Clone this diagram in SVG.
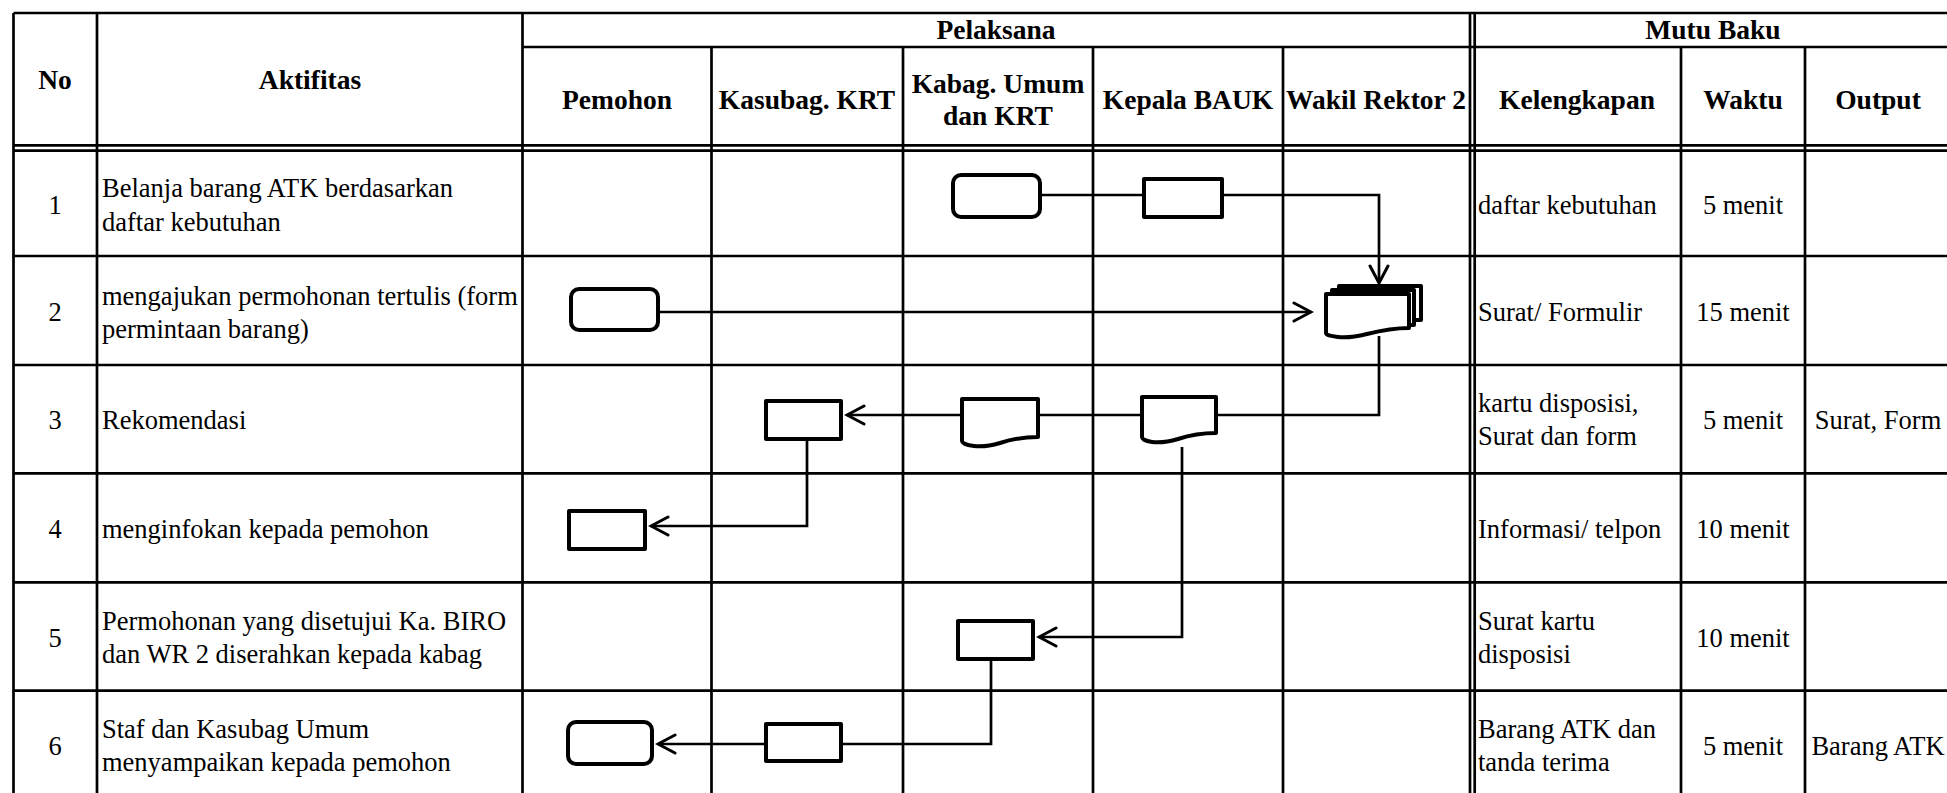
<svg xmlns="http://www.w3.org/2000/svg" width="1947" height="793" viewBox="0 0 1947 793">
<style>
.g{stroke:#000;stroke-width:2.7;fill:none}
.n{stroke:#000;stroke-width:4;fill:#fff;stroke-linejoin:round}
.c{stroke:#000;stroke-width:2.7;fill:none}
text{font-family:"Liberation Serif","Times New Roman",serif;font-size:26.5px;fill:#000}
.b{font-weight:bold;font-size:27.5px}
.m{text-anchor:middle}
</style>
<defs>
<marker id="ah" markerUnits="userSpaceOnUse" markerWidth="22" markerHeight="22" viewBox="0 0 22 22" refX="19" refY="11" orient="auto">
<path d="M2,2 L19,11 L2,20" fill="none" stroke="#000" stroke-width="3" stroke-linecap="round" stroke-linejoin="miter"/>
</marker>
</defs>
<rect width="1947" height="793" fill="#fff"/>
<g id="table">
<path class="g" d="M13.5,13 V800 M97,13 V800 M522.5,13 V800 M711.5,47 V800 M903,47 V800 M1093,47 V800 M1283,47 V800 M1470,13 V800 M1474.7,13 V800 M1681,47 V800 M1805,47 V800"/>
<path class="g" d="M13.5,13 H1950 M522.5,47 H1950 M13.5,145.3 H1950 M13.5,150.7 H1950 M13.5,256 H1950 M13.5,365 H1950 M13.5,473.3 H1950 M13.5,582.3 H1950 M13.5,690.7 H1950"/>
</g>
<g id="header">
<text class="b m" x="55" y="89">No</text>
<text class="b m" x="310" y="89">Aktifitas</text>
<text class="b m" x="996" y="39">Pelaksana</text>
<text class="b m" x="1713" y="39">Mutu Baku</text>
<text class="b m" x="617" y="109">Pemohon</text>
<text class="b m" x="807" y="109">Kasubag. KRT</text>
<text class="b m" x="998" y="93">Kabag. Umum</text>
<text class="b m" x="998" y="125">dan KRT</text>
<text class="b m" x="1188" y="109">Kepala BAUK</text>
<text class="b m" x="1376" y="109">Wakil Rektor 2</text>
<text class="b m" x="1577" y="109">Kelengkapan</text>
<text class="b m" x="1743" y="109">Waktu</text>
<text class="b m" x="1878" y="109">Output</text>
</g>
<g id="rows">
<text class="m" x="55" y="214">1</text>
<text x="102" y="197">Belanja barang ATK berdasarkan</text>
<text x="102" y="231">daftar kebutuhan</text>
<text x="1478" y="214">daftar kebutuhan</text>
<text class="m" x="1743" y="214">5 menit</text>

<text class="m" x="55" y="321">2</text>
<text x="102" y="305">mengajukan permohonan tertulis (form</text>
<text x="102" y="338">permintaan barang)</text>
<text x="1478" y="321">Surat/ Formulir</text>
<text class="m" x="1743" y="321">15 menit</text>

<text class="m" x="55" y="429">3</text>
<text x="102" y="429">Rekomendasi</text>
<text x="1478" y="412">kartu disposisi,</text>
<text x="1478" y="445">Surat dan form</text>
<text class="m" x="1743" y="429">5 menit</text>
<text class="m" x="1878" y="429">Surat, Form</text>

<text class="m" x="55" y="538">4</text>
<text x="102" y="538">menginfokan kepada pemohon</text>
<text x="1478" y="538">Informasi/ telpon</text>
<text class="m" x="1743" y="538">10 menit</text>

<text class="m" x="55" y="647">5</text>
<text x="102" y="630">Permohonan yang disetujui Ka. BIRO</text>
<text x="102" y="663">dan WR 2 diserahkan kepada kabag</text>
<text x="1478" y="630">Surat kartu</text>
<text x="1478" y="663">disposisi</text>
<text class="m" x="1743" y="647">10 menit</text>

<text class="m" x="55" y="755">6</text>
<text x="102" y="738">Staf dan Kasubag Umum</text>
<text x="102" y="771">menyampaikan kepada pemohon</text>
<text x="1478" y="738">Barang ATK dan</text>
<text x="1478" y="771">tanda terima</text>
<text class="m" x="1743" y="755">5 menit</text>
<text class="m" x="1878" y="755">Barang ATK</text>
</g>
<g id="connectors">
<path class="c" d="M1042,195 H1142"/>
<path class="c" d="M1224,195 H1379 V283" marker-end="url(#ah)"/>
<path class="c" d="M660,312 H1311" marker-end="url(#ah)"/>
<path class="c" d="M1379,336 V415 H1218"/>
<path class="c" d="M1140,415 H1040"/>
<path class="c" d="M960,415 H847" marker-end="url(#ah)"/>
<path class="c" d="M807,441 V526 H651" marker-end="url(#ah)"/>
<path class="c" d="M1182,447 V637 H1039" marker-end="url(#ah)"/>
<path class="c" d="M991,661 V744 H843"/>
<path class="c" d="M764,744 H658" marker-end="url(#ah)"/>
</g>
<g id="n1-kabag"><rect class="n" x="953" y="175" width="87" height="42" rx="8"/></g>
<g id="n1-kepala"><rect class="n" x="1144" y="179" width="78" height="38"/></g>
<g id="n2-pemohon"><rect class="n" x="571" y="289" width="87" height="41" rx="8"/></g>
<g id="n2-wakil">
<rect class="n" x="1339" y="286" width="82" height="34"/>
<rect class="n" x="1332" y="290" width="82" height="35"/>
<path class="n" d="M1326,294 H1409 V328 C1393,328 1379,331 1367,334 C1355,337 1346,338 1338,337 C1330,336 1326,335 1326,333 Z"/>
</g>
<g id="n3-kasubag"><rect class="n" x="766" y="401" width="75" height="38"/></g>
<g id="n3-kabag"><path class="n" d="M962,399 H1038 V437 C1024,437 1012,439 1000,443 C990,446 982,447 974,446 C966,445 962,443 962,441 Z"/></g>
<g id="n3-kepala"><path class="n" d="M1142,397 H1216 V433 C1202,433 1190,435 1178,439 C1168,442 1160,443 1152,442 C1145,441 1142,439 1142,437 Z"/></g>
<g id="n4-pemohon"><rect class="n" x="569" y="511" width="76" height="38"/></g>
<g id="n5-kabag"><rect class="n" x="958" y="621" width="75" height="38"/></g>
<g id="n6-kasubag"><rect class="n" x="766" y="724" width="75" height="37"/></g>
<g id="n6-pemohon"><rect class="n" x="568" y="722" width="84" height="42" rx="8"/></g>
</svg>
